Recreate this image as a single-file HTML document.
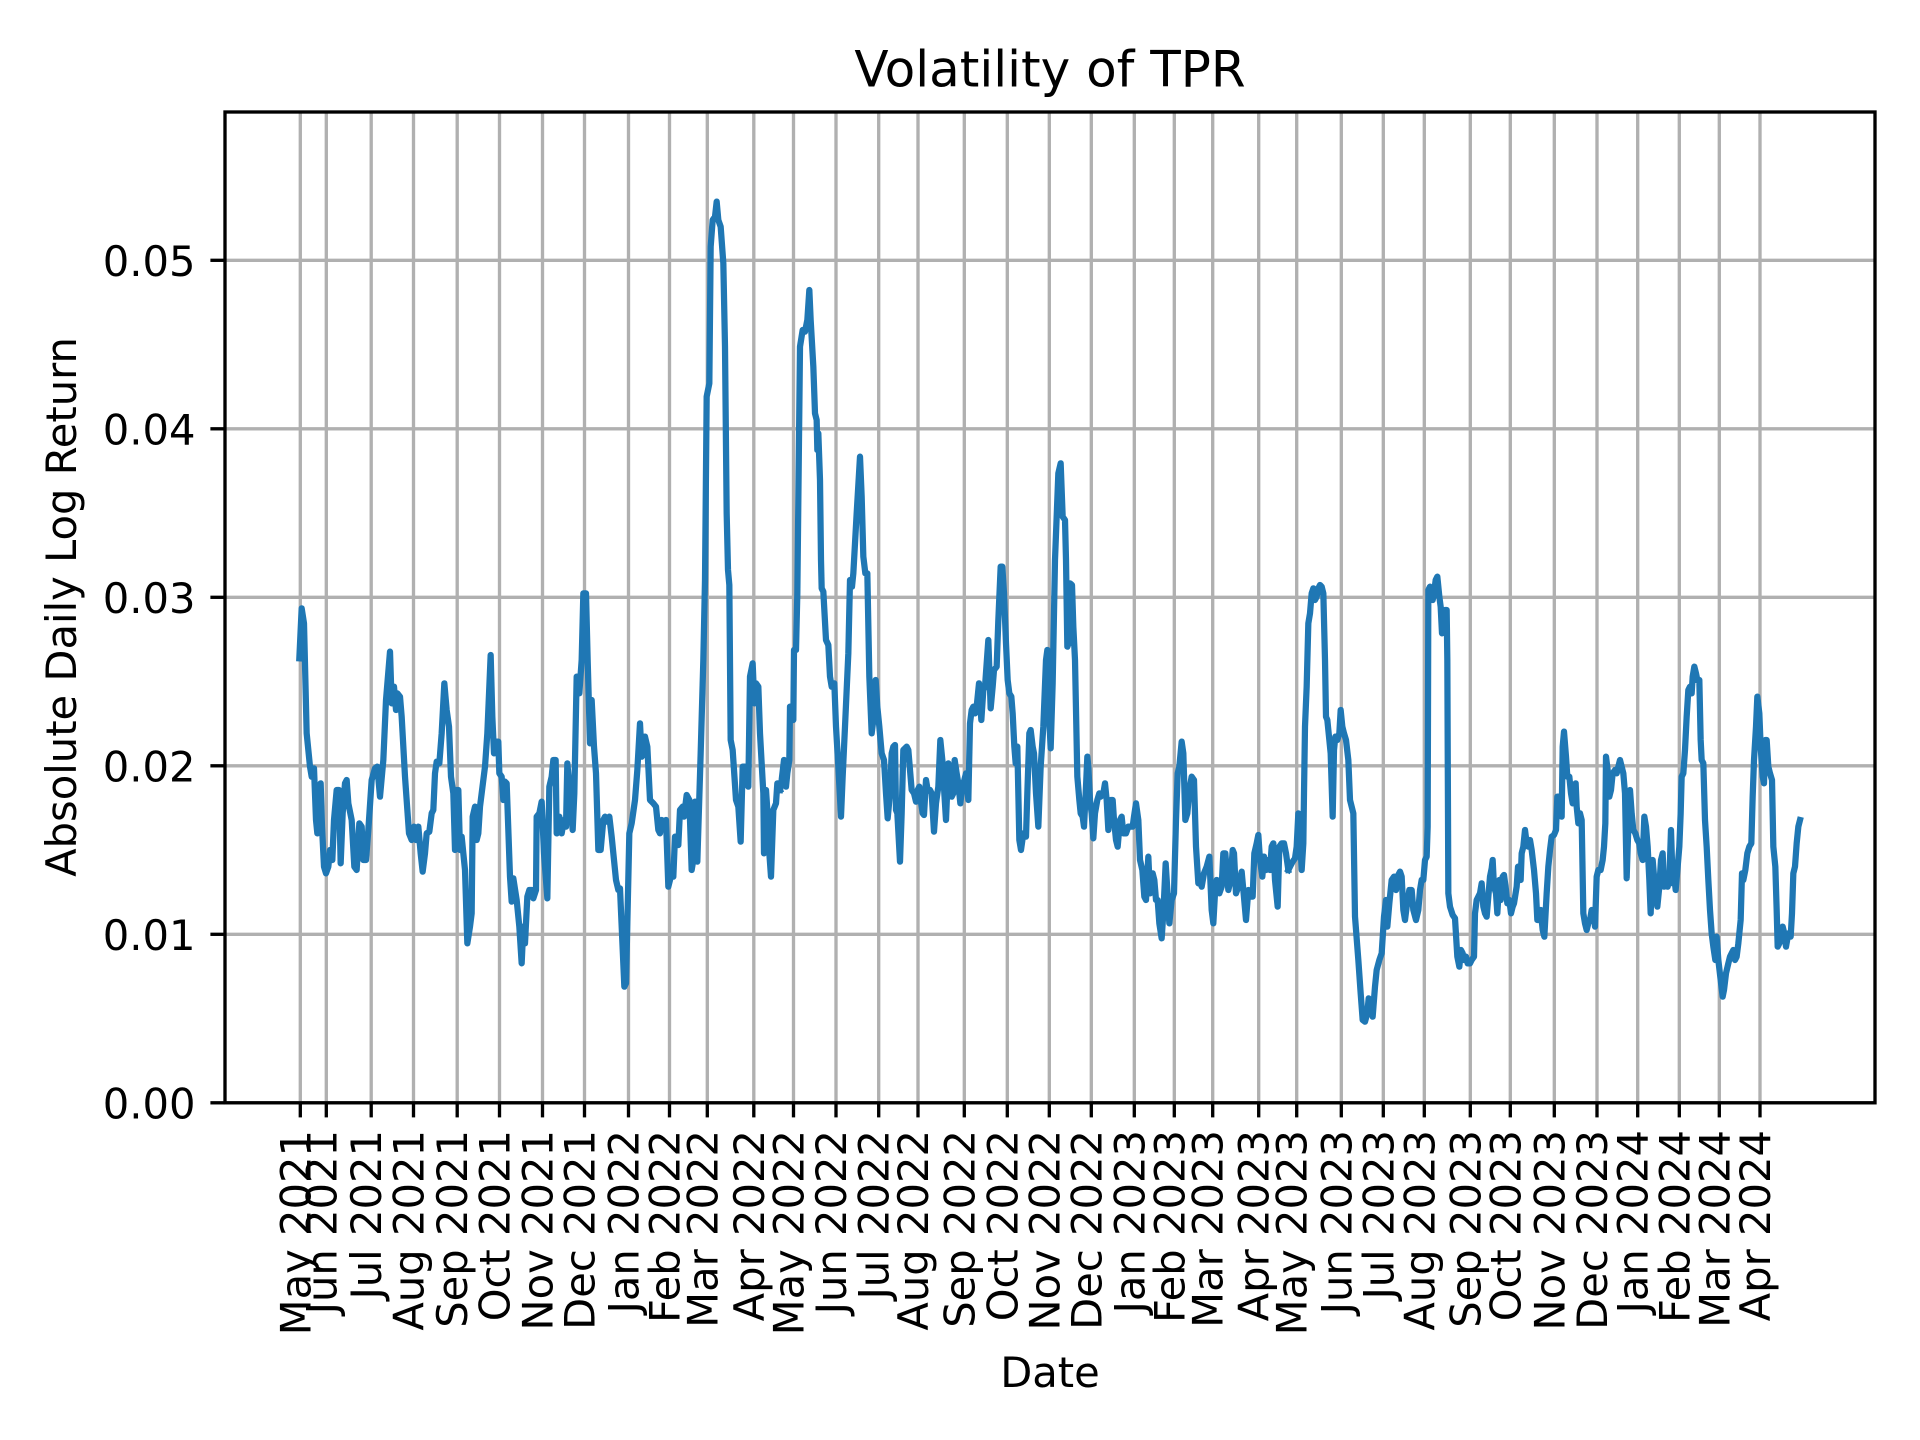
<!DOCTYPE html>
<html>
<head>
<meta charset="utf-8">
<style>
  html, body { margin: 0; padding: 0; background: #ffffff; }
  svg { display: block; }
  text { font-family: "DejaVu Sans", "Liberation Sans", sans-serif; fill: #000; }
</style>
</head>
<body>
<svg width="1920" height="1440" viewBox="0 0 1920 1440" xmlns="http://www.w3.org/2000/svg">
  <rect x="0" y="0" width="1920" height="1440" fill="#ffffff"/>

  <!-- grid -->
  <g stroke="#b0b0b0" stroke-width="3.33" fill="none">
    <line x1="225" y1="1102.8" x2="1875" y2="1102.8"/>
    <line x1="225" y1="934.3" x2="1875" y2="934.3"/>
    <line x1="225" y1="765.8" x2="1875" y2="765.8"/>
    <line x1="225" y1="597.3" x2="1875" y2="597.3"/>
    <line x1="225" y1="428.8" x2="1875" y2="428.8"/>
    <line x1="225" y1="260.3" x2="1875" y2="260.3"/>

    <line x1="300.3" y1="112" x2="300.3" y2="1102.8"/>
    <line x1="326.3" y1="112" x2="326.3" y2="1102.8"/>
    <line x1="371.2" y1="112" x2="371.2" y2="1102.8"/>
    <line x1="413.5" y1="112" x2="413.5" y2="1102.8"/>
    <line x1="457.2" y1="112" x2="457.2" y2="1102.8"/>
    <line x1="499.5" y1="112" x2="499.5" y2="1102.8"/>
    <line x1="542.5" y1="112" x2="542.5" y2="1102.8"/>
    <line x1="584.5" y1="112" x2="584.5" y2="1102.8"/>
    <line x1="628.5" y1="112" x2="628.5" y2="1102.8"/>
    <line x1="669.5" y1="112" x2="669.5" y2="1102.8"/>
    <line x1="707.3" y1="112" x2="707.3" y2="1102.8"/>
    <line x1="753.8" y1="112" x2="753.8" y2="1102.8"/>
    <line x1="793.5" y1="112" x2="793.5" y2="1102.8"/>
    <line x1="836" y1="112" x2="836" y2="1102.8"/>
    <line x1="878.7" y1="112" x2="878.7" y2="1102.8"/>
    <line x1="918" y1="112" x2="918" y2="1102.8"/>
    <line x1="964.3" y1="112" x2="964.3" y2="1102.8"/>
    <line x1="1007.3" y1="112" x2="1007.3" y2="1102.8"/>
    <line x1="1049.3" y1="112" x2="1049.3" y2="1102.8"/>
    <line x1="1091.3" y1="112" x2="1091.3" y2="1102.8"/>
    <line x1="1134.3" y1="112" x2="1134.3" y2="1102.8"/>
    <line x1="1174.3" y1="112" x2="1174.3" y2="1102.8"/>
    <line x1="1212.7" y1="112" x2="1212.7" y2="1102.8"/>
    <line x1="1258.7" y1="112" x2="1258.7" y2="1102.8"/>
    <line x1="1296.7" y1="112" x2="1296.7" y2="1102.8"/>
    <line x1="1341.3" y1="112" x2="1341.3" y2="1102.8"/>
    <line x1="1383.3" y1="112" x2="1383.3" y2="1102.8"/>
    <line x1="1424.3" y1="112" x2="1424.3" y2="1102.8"/>
    <line x1="1470.3" y1="112" x2="1470.3" y2="1102.8"/>
    <line x1="1510.3" y1="112" x2="1510.3" y2="1102.8"/>
    <line x1="1554.3" y1="112" x2="1554.3" y2="1102.8"/>
    <line x1="1597" y1="112" x2="1597" y2="1102.8"/>
    <line x1="1637.7" y1="112" x2="1637.7" y2="1102.8"/>
    <line x1="1679.3" y1="112" x2="1679.3" y2="1102.8"/>
    <line x1="1719.3" y1="112" x2="1719.3" y2="1102.8"/>
    <line x1="1760" y1="112" x2="1760" y2="1102.8"/>
  </g>

  <!-- data -->
  <g fill="none" stroke="#1f77b4" stroke-width="18.75" stroke-linejoin="round" stroke-linecap="square">
    <polyline transform="translate(290,560) scale(0.333333)" points="28,295 35,145 42,190 50,520 60,620 65,650 72,625 78,780 82,820 88,680 92,670 96,800 102,920 108,940 115,920 120,870 127,900 132,780 140,690 147,690 152,910 158,760 165,670 170,660 175,730 185,780 193,920 200,930 208,790 215,800 220,900 228,900 235,810 245,660 255,625 262,620 270,710 280,600 288,420 300,275 305,430 312,380 318,450 322,400 330,410 335,470 345,650 357,820 365,840 372,800 378,840 385,800 392,880 398,935 405,880 410,820 418,815 425,760 430,750 435,640 440,605 448,610 455,520 463,370 470,450 477,500 483,650 490,700 495,870 500,690 505,690 510,870 515,830 525,930 532,1150 540,1100 545,1060 548,770 555,740 560,840 565,820 570,740 585,620 592,520 602,285 607,470 612,580 618,545 625,545 628,640 635,650 640,720 645,665 650,670 660,950 665,1025 670,955 680,1020 688,1100 695,1210 700,1100 705,1150 712,1010 718,990 725,990 730,1015 738,990 740,770 748,760 755,725 762,880 772,1015 778,680 785,650 790,600 797,600 800,820 808,770 815,820 822,780 828,800 832,610 840,700 848,810 853,700 860,350 868,400 875,300 880,100 888,100 893,300 900,550 905,420 912,560 918,640 925,870 932,870 940,780 945,770 950,785 958,770 965,830 978,960 985,990 990,985 1003,1280 1008,1270 1018,820 1025,790 1035,720 1042,630 1050,490 1055,590 1060,580 1065,530 1072,560 1080,720 1090,730 1098,740 1105,810 1110,820 1115,780 1120,790 1128,780 1135,980 1145,940 1150,950 1155,830 1160,840 1165,855 1170,750 1178,740 1182,770 1190,705 1198,720 1205,930 1210,900 1215,725 1218,900 1222,905 1232,580 1240,300 1245,60 1250,-490 1258,-530 1262,-940 1268,-1020 1275,-1030 1280,-1075 1285,-1020 1292,-1000 1300,-890 1305,-640 1310,-140 1314,30 1318,75 1322,540 1328,570 1338,720 1345,740 1352,845 1358,620 1365,620 1368,670 1375,680 1380,350 1388,310 1393,430 1398,370 1405,380 1410,520 1420,700 1422,880 1428,690 1432,750 1438,880 1443,950 1450,750 1458,730 1462,670 1470,690"/>
    <polyline transform="translate(780,560) scale(0.333333)" points="0,690 5,660 12,600 18,680 22,640 28,600 30,440 35,480 40,480 42,270 48,270 52,100 60,-640 68,-690 75,-685 82,-720 88,-810 92,-720 100,-580 105,-440 110,-420 112,-330 115,-380 120,-240 123,0 125,85 130,95 138,240 145,255 150,350 155,380 163,370 168,500 175,620 183,770 188,650 195,500 205,280 210,60 216,80 220,40 230,-140 240,-310 245,-190 250,-10 256,40 262,40 268,350 275,520 280,480 287,360 292,440 298,500 305,580 312,600 318,700 323,775 330,700 335,580 340,560 345,555 348,750 352,760 360,905 365,760 370,570 380,560 385,570 395,690 402,700 408,725 413,690 418,680 422,720 428,760 432,765 438,660 443,690 450,690 455,700 462,815 468,730 475,680 481,540 487,600 490,640 493,700 498,780 505,610 510,640 515,710 520,700 524,600 530,640 535,670 541,730 547,680 553,660 558,640 565,720 570,490 575,450 580,440 585,460 590,440 597,370 604,480 610,390 615,380 625,240 632,445 638,380 642,330 650,320 655,180 662,20 667,20 672,100 678,250 683,360 688,400 694,410 698,460 703,560 707,610 712,560 718,840 723,870 730,820 738,830 742,700 748,520 752,510 758,560 762,580 768,700 775,800 782,620 790,500 798,300 802,270 808,480 812,565 818,370 825,0 830,-130 835,-260 842,-290 848,-130 855,-120 858,0 862,260 866,250 870,70 876,75 880,200 885,300 892,650 898,720 902,760 908,770 912,800 918,680 922,590 925,620 930,720 935,760 940,835 945,760 952,720 958,700 962,710 970,700 975,670 980,720 985,810 992,720 998,720 1002,780 1008,840 1013,860 1020,780 1025,770 1030,820 1038,820 1045,800 1050,800 1058,800 1062,770 1068,730 1075,780 1080,900 1087,930 1093,1010 1098,1020 1105,890 1110,1000 1118,940 1123,960 1128,1020 1133,1020 1138,1090 1145,1135 1150,1060 1157,910 1162,990 1168,1090 1175,1020 1182,1000 1188,780 1193,640 1198,620 1205,545 1210,580 1216,780 1222,760 1228,690 1235,650 1242,660 1248,860 1255,970 1260,960 1265,980 1272,940 1280,920 1288,890 1295,1050 1300,1090 1305,1000 1310,960 1318,1000 1325,980 1330,880 1336,880 1340,930 1345,990 1352,960 1358,870 1362,880 1368,1000 1375,980 1380,960 1385,935 1390,990 1398,1080 1405,990 1410,1010 1418,1010 1423,880 1430,850 1435,825 1440,900 1447,950 1452,890 1458,930 1465,900 1470,930 1475,860 1480,850 1485,960 1493,1040 1498,860 1505,850 1512,850 1518,880 1525,930"/>
    <polyline transform="translate(1290,560) scale(0.333333)" points="-5,930 0,920 8,905 15,895 20,860 25,760 30,830 35,930 40,850 42,700 45,500 50,380 55,190 60,160 65,100 70,85 75,120 80,110 85,85 90,75 95,80 100,100 105,300 108,470 112,480 118,540 122,580 128,770 132,570 136,530 142,540 148,520 152,450 157,500 162,520 168,540 175,600 180,720 185,740 190,760 195,1070 205,1200 212,1300 218,1380 225,1385 232,1360 236,1315 240,1320 248,1370 255,1280 260,1230 268,1200 275,1180 282,1070 288,1020 292,1100 298,1030 305,960 312,950 318,990 322,950 330,935 335,950 340,1050 345,1080 350,1040 358,990 365,990 370,1050 378,1080 385,1050 390,990 395,960 400,960 405,900 410,890 413,800 415,90 420,80 428,120 432,100 437,60 442,50 448,110 452,140 456,220 460,200 465,150 470,150 472,300 475,1000 480,1040 488,1065 495,1075 502,1190 508,1220 513,1170 518,1180 522,1200 528,1190 533,1210 540,1210 545,1200 552,1190 555,1060 560,1020 565,1010 570,1000 575,970 580,1040 585,1060 590,1070 595,1010 600,950 605,925 608,900 612,980 618,1000 622,1060 628,960 632,1020 638,950 642,945 648,990 652,1030 658,1020 663,1060 668,1040 672,1030 680,980 684,920 688,960 692,960 695,880 700,860 705,810 710,850 715,860 720,840 725,870 732,930 738,1000 742,1080 748,1080 752,1050 758,1110 763,1130 770,1000 775,920 780,870 785,830 792,825 798,810 802,710 808,710 815,770 818,560 822,515 828,590 832,650 838,650 843,700 848,730 852,680 857,670 860,740 865,790 870,760 875,780 880,1060 885,1090 890,1110 895,1090 900,1080 905,1050 912,1060 915,1100 920,950 925,930 932,930 938,900 942,860 946,790 948,590 953,630 958,710 963,690 968,640 975,630 980,640 985,620 990,600 995,620 1000,640 1005,700 1010,955 1015,800 1020,690 1025,760 1030,810 1036,820 1042,840 1048,850 1052,880 1058,900 1063,770 1068,800 1073,860 1078,960 1082,1060 1088,900 1093,960 1098,1000 1102,1040 1108,980 1113,900 1118,880 1122,980 1128,960 1133,980 1138,960 1143,810 1148,970 1152,940 1157,990 1163,920 1168,860 1172,760 1175,650 1180,640 1185,570 1190,470 1195,390 1200,380 1205,400 1208,350 1213,320 1218,340 1222,360 1228,360 1232,540 1235,600 1240,610 1245,780 1250,860 1255,960 1260,1050 1265,1120 1270,1160 1276,1200 1280,1130 1285,1200 1292,1260 1298,1310 1302,1290 1308,1240 1315,1210 1320,1190 1325,1180 1330,1170 1335,1200 1340,1190 1345,1150 1352,1080 1356,940 1360,960 1366,930 1372,880 1378,860 1384,850 1388,710 1392,600 1398,500 1402,410 1408,460 1412,560 1418,650 1422,670 1426,540 1430,540 1435,620 1440,640 1446,660 1450,860 1456,920 1460,1050 1463,1160 1468,1150 1472,1140 1478,1100 1483,1120 1488,1160 1495,1120 1502,1130 1506,1060 1510,940 1515,920 1520,850 1525,800 1530,780"/>
  </g>

  <!-- spines -->
  <rect x="225" y="112" width="1650" height="990.8" fill="none" stroke="#000" stroke-width="3.33" stroke-linejoin="miter"/>

  <!-- y ticks -->
  <g stroke="#000" stroke-width="3.33">
    <line x1="210.4" y1="1102.8" x2="225" y2="1102.8"/>
    <line x1="210.4" y1="934.3" x2="225" y2="934.3"/>
    <line x1="210.4" y1="765.8" x2="225" y2="765.8"/>
    <line x1="210.4" y1="597.3" x2="225" y2="597.3"/>
    <line x1="210.4" y1="428.8" x2="225" y2="428.8"/>
    <line x1="210.4" y1="260.3" x2="225" y2="260.3"/>
  </g>
  <g font-size="41.67" text-anchor="end">
    <text x="195.5" y="1118.5">0.00</text>
    <text x="195.5" y="950">0.01</text>
    <text x="195.5" y="781.5">0.02</text>
    <text x="195.5" y="613">0.03</text>
    <text x="195.5" y="444.5">0.04</text>
    <text x="195.5" y="276">0.05</text>
  </g>

  <!-- x ticks -->
  <g stroke="#000" stroke-width="3.33">
    <line x1="300.3" y1="1102.8" x2="300.3" y2="1117.4"/>
    <line x1="326.3" y1="1102.8" x2="326.3" y2="1117.4"/>
    <line x1="371.2" y1="1102.8" x2="371.2" y2="1117.4"/>
    <line x1="413.5" y1="1102.8" x2="413.5" y2="1117.4"/>
    <line x1="457.2" y1="1102.8" x2="457.2" y2="1117.4"/>
    <line x1="499.5" y1="1102.8" x2="499.5" y2="1117.4"/>
    <line x1="542.5" y1="1102.8" x2="542.5" y2="1117.4"/>
    <line x1="584.5" y1="1102.8" x2="584.5" y2="1117.4"/>
    <line x1="628.5" y1="1102.8" x2="628.5" y2="1117.4"/>
    <line x1="669.5" y1="1102.8" x2="669.5" y2="1117.4"/>
    <line x1="707.3" y1="1102.8" x2="707.3" y2="1117.4"/>
    <line x1="753.8" y1="1102.8" x2="753.8" y2="1117.4"/>
    <line x1="793.5" y1="1102.8" x2="793.5" y2="1117.4"/>
    <line x1="836" y1="1102.8" x2="836" y2="1117.4"/>
    <line x1="878.7" y1="1102.8" x2="878.7" y2="1117.4"/>
    <line x1="918" y1="1102.8" x2="918" y2="1117.4"/>
    <line x1="964.3" y1="1102.8" x2="964.3" y2="1117.4"/>
    <line x1="1007.3" y1="1102.8" x2="1007.3" y2="1117.4"/>
    <line x1="1049.3" y1="1102.8" x2="1049.3" y2="1117.4"/>
    <line x1="1091.3" y1="1102.8" x2="1091.3" y2="1117.4"/>
    <line x1="1134.3" y1="1102.8" x2="1134.3" y2="1117.4"/>
    <line x1="1174.3" y1="1102.8" x2="1174.3" y2="1117.4"/>
    <line x1="1212.7" y1="1102.8" x2="1212.7" y2="1117.4"/>
    <line x1="1258.7" y1="1102.8" x2="1258.7" y2="1117.4"/>
    <line x1="1296.7" y1="1102.8" x2="1296.7" y2="1117.4"/>
    <line x1="1341.3" y1="1102.8" x2="1341.3" y2="1117.4"/>
    <line x1="1383.3" y1="1102.8" x2="1383.3" y2="1117.4"/>
    <line x1="1424.3" y1="1102.8" x2="1424.3" y2="1117.4"/>
    <line x1="1470.3" y1="1102.8" x2="1470.3" y2="1117.4"/>
    <line x1="1510.3" y1="1102.8" x2="1510.3" y2="1117.4"/>
    <line x1="1554.3" y1="1102.8" x2="1554.3" y2="1117.4"/>
    <line x1="1597" y1="1102.8" x2="1597" y2="1117.4"/>
    <line x1="1637.7" y1="1102.8" x2="1637.7" y2="1117.4"/>
    <line x1="1679.3" y1="1102.8" x2="1679.3" y2="1117.4"/>
    <line x1="1719.3" y1="1102.8" x2="1719.3" y2="1117.4"/>
    <line x1="1760" y1="1102.8" x2="1760" y2="1117.4"/>
  </g>
  <g font-size="41.67" text-anchor="end">
    <text transform="translate(310.3,1130) rotate(-90)">May 2021</text>
    <text transform="translate(336.3,1130) rotate(-90)">Jun 2021</text>
    <text transform="translate(381.2,1130) rotate(-90)">Jul 2021</text>
    <text transform="translate(423.5,1130) rotate(-90)">Aug 2021</text>
    <text transform="translate(467.2,1130) rotate(-90)">Sep 2021</text>
    <text transform="translate(509.5,1130) rotate(-90)">Oct 2021</text>
    <text transform="translate(552.5,1130) rotate(-90)">Nov 2021</text>
    <text transform="translate(594.5,1130) rotate(-90)">Dec 2021</text>
    <text transform="translate(638.5,1130) rotate(-90)">Jan 2022</text>
    <text transform="translate(679.5,1130) rotate(-90)">Feb 2022</text>
    <text transform="translate(717.3,1130) rotate(-90)">Mar 2022</text>
    <text transform="translate(763.8,1130) rotate(-90)">Apr 2022</text>
    <text transform="translate(803.5,1130) rotate(-90)">May 2022</text>
    <text transform="translate(846,1130) rotate(-90)">Jun 2022</text>
    <text transform="translate(888.7,1130) rotate(-90)">Jul 2022</text>
    <text transform="translate(928,1130) rotate(-90)">Aug 2022</text>
    <text transform="translate(974.3,1130) rotate(-90)">Sep 2022</text>
    <text transform="translate(1017.3,1130) rotate(-90)">Oct 2022</text>
    <text transform="translate(1059.3,1130) rotate(-90)">Nov 2022</text>
    <text transform="translate(1101.3,1130) rotate(-90)">Dec 2022</text>
    <text transform="translate(1144.3,1130) rotate(-90)">Jan 2023</text>
    <text transform="translate(1184.3,1130) rotate(-90)">Feb 2023</text>
    <text transform="translate(1222.7,1130) rotate(-90)">Mar 2023</text>
    <text transform="translate(1268.7,1130) rotate(-90)">Apr 2023</text>
    <text transform="translate(1306.7,1130) rotate(-90)">May 2023</text>
    <text transform="translate(1351.3,1130) rotate(-90)">Jun 2023</text>
    <text transform="translate(1393.3,1130) rotate(-90)">Jul 2023</text>
    <text transform="translate(1434.3,1130) rotate(-90)">Aug 2023</text>
    <text transform="translate(1480.3,1130) rotate(-90)">Sep 2023</text>
    <text transform="translate(1520.3,1130) rotate(-90)">Oct 2023</text>
    <text transform="translate(1564.3,1130) rotate(-90)">Nov 2023</text>
    <text transform="translate(1607,1130) rotate(-90)">Dec 2023</text>
    <text transform="translate(1647.7,1130) rotate(-90)">Jan 2024</text>
    <text transform="translate(1689.3,1130) rotate(-90)">Feb 2024</text>
    <text transform="translate(1729.3,1130) rotate(-90)">Mar 2024</text>
    <text transform="translate(1770,1130) rotate(-90)">Apr 2024</text>
  </g>

  <!-- labels -->
  <text x="1050" y="86.7" font-size="50" text-anchor="middle">Volatility of TPR</text>
  <text x="1050" y="1387" font-size="41.67" text-anchor="middle">Date</text>
  <text transform="translate(76,607) rotate(-90)" font-size="41.67" text-anchor="middle">Absolute Daily Log Return</text>
</svg>
</body>
</html>
